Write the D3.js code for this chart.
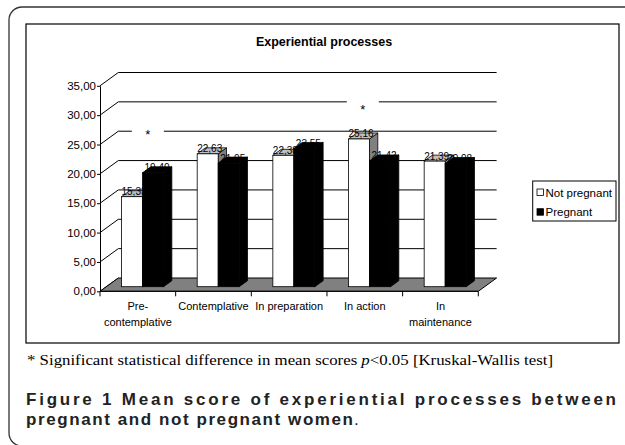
<!DOCTYPE html>
<html lang="en">
<head>
    <meta charset="UTF-8">
    <title>Experiential processes</title>
    <script src="https://d3js.org/d3.v7.min.js"></script>
    <style>
        body {
            margin: 0;
            background: white;
        }
        svg text {
            font-family: "Liberation Sans", Arial, sans-serif;
        }
    </style>
</head>
<body>
    <div id="chart"></div>

    <script>
        // Data
        const categories = ["Pre-contemplative", "Contemplative", "In preparation", "In action", "In maintenance"];
        const categoryLines = [["Pre-", "contemplative"], ["Contemplative"], ["In preparation"], ["In action"], ["In", "maintenance"]];
        const series = ["Not pregnant", "Pregnant"];
        const notPregnant = [15.33, 22.63, 22.38, 25.16, 21.39];
        const pregnant = [19.40, 21.05, 23.55, 21.42, 20.98];
        const yTicks = [0, 5, 10, 15, 20, 25, 30, 35];
        const significance = [
            { category: "Pre-contemplative", level: 25, shift: 10, drop: 2 },
            { category: "In action", level: 30, shift: -2, drop: 6 }
        ];

        const values = [notPregnant, pregnant];
        const fmt = v => d3.format(".2f")(v).replace(".", ",");

        const svg = d3.select("#chart").append("svg")
            .attr("width", 625)
            .attr("height", 445);

        // outer rounded frame + chart box
        svg.append("rect")
            .attr("x", 9).attr("y", 7)
            .attr("width", 640).attr("height", 439)
            .attr("rx", 13)
            .attr("fill", "white")
            .attr("stroke", "#333").attr("stroke-width", 1.3);

        svg.append("rect")
            .attr("x", 26).attr("y", 24)
            .attr("width", 593).attr("height", 319)
            .attr("fill", "white")
            .attr("stroke", "#000").attr("stroke-width", 1.2);

        svg.append("text")
            .attr("x", 324).attr("y", 46)
            .attr("text-anchor", "middle")
            .style("font-size", "12.5px")
            .style("font-weight", "bold")
            .text("Experiential processes");

        // 3D-ish geometry
        const left = 100, right = 478.3;
        const wall = { dx: 18.3, dy: -13.3 };     // depth of the floor / side wall
        const front = { dx: 4.7, dy: -4.6 };      // where the bars stand
        const barDepth = { dx: 8.3, dy: -6 };

        const y = d3.scaleLinear().domain([0, 35]).range([291.3, 85.8]);
        const x = d3.scaleBand().domain(categories).range([left, right]);
        const groupW = 42;
        const x1 = d3.scaleBand().domain(series).range([0, groupW]);

        const g = svg.append("g");

        // back wall gridlines
        g.selectAll(".grid")
            .data(yTicks.filter(d => d > 0))
            .enter().append("line")
            .attr("x1", left + wall.dx).attr("x2", right + wall.dx)
            .attr("y1", d => y(d) + wall.dy).attr("y2", d => y(d) + wall.dy)
            .attr("stroke", "#000").attr("stroke-width", 1);

        // side wall diagonals
        g.selectAll(".diag")
            .data(yTicks)
            .enter().append("line")
            .attr("x1", left).attr("x2", left + wall.dx)
            .attr("y1", d => y(d)).attr("y2", d => y(d) + wall.dy)
            .attr("stroke", "#000").attr("stroke-width", 1);

        // floor
        g.append("polygon")
            .attr("points", [
                [left, y(0)], [right, y(0)],
                [right + wall.dx, y(0) + wall.dy], [left + wall.dx, y(0) + wall.dy]
            ].map(p => p.join(",")).join(" "))
            .attr("fill", "#808080")
            .attr("stroke", "#000").attr("stroke-width", 1);

        // significance stars on the back wall
        significance.forEach(s => {
            const cx = x(s.category) + x.bandwidth() / 2 + s.shift;
            const cy = y(s.level) + wall.dy;
            g.append("rect")
                .attr("x", cx - 16).attr("y", cy - 3)
                .attr("width", 32).attr("height", s.drop + 9)
                .attr("fill", "white");
            g.append("text")
                .attr("x", cx).attr("y", cy + s.drop + 6)
                .attr("text-anchor", "middle")
                .style("font-size", "13px")
                .text("*");
        });

        // y axis
        const yAxis = g.append("g")
            .attr("transform", `translate(${left},0)`)
            .call(d3.axisLeft(y).tickValues(yTicks).tickSize(3).tickSizeOuter(0).tickPadding(1).tickFormat(fmt));
        yAxis.select(".domain").attr("stroke", "#000");
        yAxis.selectAll("text").style("font-size", "11.5px").attr("fill", "#000")
            .style("font-family", "'Liberation Sans', Arial, sans-serif");

        // x axis
        g.append("line")
            .attr("x1", left).attr("x2", right)
            .attr("y1", y(0)).attr("y2", y(0))
            .attr("stroke", "#000");
        g.selectAll(".xtick")
            .data(categories.map(c => x(c)).concat([right]))
            .enter().append("line")
            .attr("x1", d => d).attr("x2", d => d)
            .attr("y1", y(0)).attr("y2", y(0) + 5)
            .attr("stroke", "#000");

        categories.forEach((c, i) => {
            const t = g.append("text")
                .attr("text-anchor", "middle")
                .style("font-size", "11px");
            categoryLines[i].forEach((line, k) => {
                t.append("tspan")
                    .attr("x", x(c) + x.bandwidth() / 2)
                    .attr("y", 309.5 + k * 16)
                    .text(line);
            });
        });

        // bars: front, top, side; label after each bar
        const faces = [
            { front: "#ffffff", top: "#c0c0c0", side: "#808080" },
            { front: "#000000", top: "#000000", side: "#000000" }
        ];

        categories.forEach((c, i) => {
            series.forEach((s, j) => {
                const v = values[j][i];
                const fx = x(c) + (x.bandwidth() - groupW) / 2 + front.dx + x1(s);
                const w = x1.bandwidth();
                const yb = y(0) + front.dy;
                const yt = y(v) + front.dy;
                const col = faces[j];

                g.append("polygon")
                    .attr("points", [[fx + w, yt], [fx + w, yb], [fx + w + barDepth.dx, yb + barDepth.dy], [fx + w + barDepth.dx, yt + barDepth.dy]]
                        .map(p => p.join(",")).join(" "))
                    .attr("fill", col.side).attr("stroke", "#000").attr("stroke-width", 0.8);
                g.append("polygon")
                    .attr("points", [[fx, yt], [fx + w, yt], [fx + w + barDepth.dx, yt + barDepth.dy], [fx + barDepth.dx, yt + barDepth.dy]]
                        .map(p => p.join(",")).join(" "))
                    .attr("fill", col.top).attr("stroke", "#000").attr("stroke-width", 0.8);
                g.append("rect")
                    .attr("x", fx).attr("y", yt)
                    .attr("width", w).attr("height", yb - yt)
                    .attr("fill", col.front).attr("stroke", "#000").attr("stroke-width", 0.8);

                g.append("text")
                    .attr("x", fx + w / 2 + 2 + j * 2).attr("y", yt - 1.5)
                    .attr("text-anchor", "middle")
                    .style("font-size", "10px")
                    .text(fmt(v));
            });
        });

        // legend
        const lg = svg.append("g");
        lg.append("rect")
            .attr("x", 532.7).attr("y", 181)
            .attr("width", 83.3).attr("height", 40)
            .attr("fill", "white").attr("stroke", "#000").attr("stroke-width", 1);
        series.forEach((s, j) => {
            lg.append("rect")
                .attr("x", 537).attr("y", 189 + j * 19.7)
                .attr("width", 6.5).attr("height", 6.5)
                .attr("fill", faces[j].front).attr("stroke", "#000").attr("stroke-width", 0.8);
            lg.append("text")
                .attr("x", 545.5).attr("y", 196.5 + j * 19.7)
                .style("font-size", "11.5px")
                .text(s);
        });

        // footnote and caption
        const note = svg.append("text")
            .attr("x", 27).attr("y", 365)
            .attr("textLength", 526).attr("lengthAdjust", "spacingAndGlyphs")
            .style("font-family", "'Liberation Serif', 'Times New Roman', serif")
            .style("font-size", "15px");
        note.append("tspan").text("* Significant statistical difference in mean scores ");
        note.append("tspan").style("font-style", "italic").text("p");
        note.append("tspan").text("<0.05 [Kruskal-Wallis test]");

        svg.append("text")
            .attr("x", 26).attr("y", 404.5)
            .attr("textLength", 590).attr("lengthAdjust", "spacing")
            .style("font-size", "17px").style("font-weight", "bold")
            .attr("fill", "#222")
            .text("Figure 1 Mean score of experiential processes between");

        svg.append("text")
            .attr("x", 26).attr("y", 424.5)
            .attr("textLength", 327).attr("lengthAdjust", "spacing")
            .style("font-size", "17px").style("font-weight", "bold")
            .attr("fill", "#222")
            .text("pregnant and not pregnant women");
        svg.append("text")
            .attr("x", 354).attr("y", 424.5)
            .style("font-size", "17px")
            .attr("fill", "#222")
            .text(".");
    </script>
</body>
</html>
